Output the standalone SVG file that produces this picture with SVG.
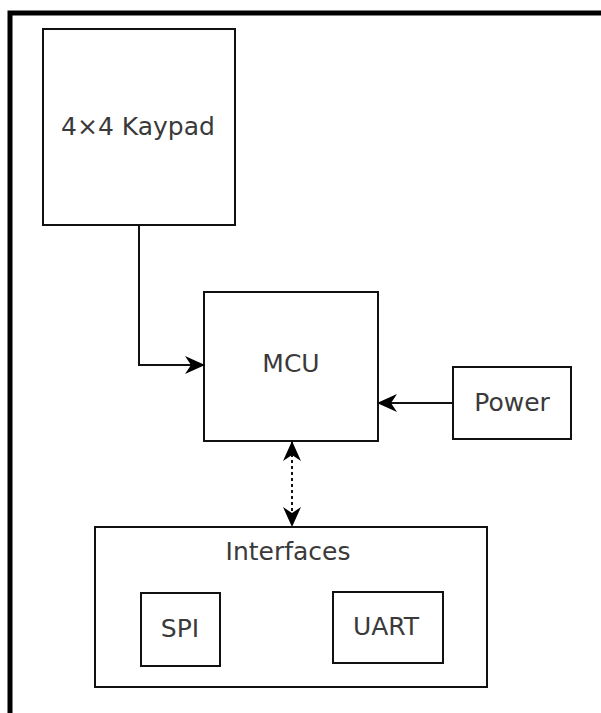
<svg xmlns="http://www.w3.org/2000/svg" width="601" height="713" viewBox="0 0 601 713">
<style>
.box{fill:#fff;stroke:#111;stroke-width:2}
.lbl{font-family:"DejaVu Sans",sans-serif;font-size:25px;fill:#3a3a3a;text-anchor:middle}
.conn{fill:none;stroke:#111;stroke-width:2}
.dot{stroke-dasharray:3 3}
</style>
<defs>
<marker id="ah" viewBox="0 0 20 20" refX="19" refY="10" markerWidth="20" markerHeight="20" markerUnits="userSpaceOnUse" orient="auto-start-reverse">
<path d="M0,1 L20,10 L0,19 L6,10 z" fill="#000"/>
</marker>
</defs>
<rect x="0" y="0" width="601" height="713" fill="#fff"/>
<path d="M10,713 V13 H601" fill="none" stroke="#000" stroke-width="5"/>
<g id="kaypad"><rect class="box" x="43" y="29" width="192" height="196"/><text class="lbl" x="138" y="135">4×4 Kaypad</text></g>
<g id="mcu"><rect class="box" x="204" y="292" width="174" height="149"/><text class="lbl" x="291" y="372">MCU</text></g>
<g id="power"><rect class="box" x="453" y="367" width="118" height="72"/><text class="lbl" x="512" y="411">Power</text></g>
<g id="interfaces"><rect class="box" x="95" y="527" width="392" height="160"/><text class="lbl" x="288" y="560">Interfaces</text></g>
<g id="spi"><rect class="box" x="141" y="593" width="79" height="73"/><text class="lbl" x="180" y="637">SPI</text></g>
<g id="uart"><rect class="box" x="333" y="592" width="110" height="71"/><text class="lbl" x="386" y="635">UART</text></g>
<g id="connectors">
<path class="conn" d="M139,225 V365 H204" marker-end="url(#ah)"/>
<path class="conn" d="M453,403 H378" marker-end="url(#ah)"/>
<path class="conn dot" d="M292,442 V526" marker-start="url(#ah)" marker-end="url(#ah)"/>
</g>
</svg>
